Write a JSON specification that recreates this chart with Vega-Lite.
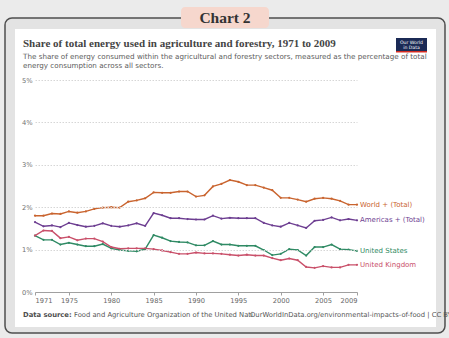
{
  "$schema": "https://vega.github.io/schema/vega-lite/v6.json",
  "width": 322,
  "height": 212,
  "autosize": {"type": "none"},
  "padding": {"left": 35, "top": 80, "right": 92, "bottom": 46},
  "background": "#ebebeb",
  "config": {
    "view": {"stroke": null},
    "font": "DejaVu Sans"
  },
  "data": {
    "values": [
      {"entity": "World + (Total)", "year": 1971, "share": 1.80},
      {"entity": "World + (Total)", "year": 1972, "share": 1.80},
      {"entity": "World + (Total)", "year": 1973, "share": 1.85},
      {"entity": "World + (Total)", "year": 1974, "share": 1.84},
      {"entity": "World + (Total)", "year": 1975, "share": 1.90},
      {"entity": "World + (Total)", "year": 1976, "share": 1.87},
      {"entity": "World + (Total)", "year": 1977, "share": 1.90},
      {"entity": "World + (Total)", "year": 1978, "share": 1.96},
      {"entity": "World + (Total)", "year": 1979, "share": 1.99},
      {"entity": "World + (Total)", "year": 1980, "share": 2.00},
      {"entity": "World + (Total)", "year": 1981, "share": 1.99},
      {"entity": "World + (Total)", "year": 1982, "share": 2.13},
      {"entity": "World + (Total)", "year": 1983, "share": 2.16},
      {"entity": "World + (Total)", "year": 1984, "share": 2.21},
      {"entity": "World + (Total)", "year": 1985, "share": 2.35},
      {"entity": "World + (Total)", "year": 1986, "share": 2.34},
      {"entity": "World + (Total)", "year": 1987, "share": 2.34},
      {"entity": "World + (Total)", "year": 1988, "share": 2.37},
      {"entity": "World + (Total)", "year": 1989, "share": 2.37},
      {"entity": "World + (Total)", "year": 1990, "share": 2.25},
      {"entity": "World + (Total)", "year": 1991, "share": 2.28},
      {"entity": "World + (Total)", "year": 1992, "share": 2.49},
      {"entity": "World + (Total)", "year": 1993, "share": 2.55},
      {"entity": "World + (Total)", "year": 1994, "share": 2.64},
      {"entity": "World + (Total)", "year": 1995, "share": 2.60},
      {"entity": "World + (Total)", "year": 1996, "share": 2.52},
      {"entity": "World + (Total)", "year": 1997, "share": 2.52},
      {"entity": "World + (Total)", "year": 1998, "share": 2.46},
      {"entity": "World + (Total)", "year": 1999, "share": 2.40},
      {"entity": "World + (Total)", "year": 2000, "share": 2.22},
      {"entity": "World + (Total)", "year": 2001, "share": 2.22},
      {"entity": "World + (Total)", "year": 2002, "share": 2.18},
      {"entity": "World + (Total)", "year": 2003, "share": 2.13},
      {"entity": "World + (Total)", "year": 2004, "share": 2.20},
      {"entity": "World + (Total)", "year": 2005, "share": 2.22},
      {"entity": "World + (Total)", "year": 2006, "share": 2.20},
      {"entity": "World + (Total)", "year": 2007, "share": 2.15},
      {"entity": "World + (Total)", "year": 2008, "share": 2.06},
      {"entity": "World + (Total)", "year": 2009, "share": 2.06},

      {"entity": "Americas + (Total)", "year": 1971, "share": 1.65},
      {"entity": "Americas + (Total)", "year": 1972, "share": 1.55},
      {"entity": "Americas + (Total)", "year": 1973, "share": 1.57},
      {"entity": "Americas + (Total)", "year": 1974, "share": 1.53},
      {"entity": "Americas + (Total)", "year": 1975, "share": 1.63},
      {"entity": "Americas + (Total)", "year": 1976, "share": 1.58},
      {"entity": "Americas + (Total)", "year": 1977, "share": 1.54},
      {"entity": "Americas + (Total)", "year": 1978, "share": 1.56},
      {"entity": "Americas + (Total)", "year": 1979, "share": 1.62},
      {"entity": "Americas + (Total)", "year": 1980, "share": 1.56},
      {"entity": "Americas + (Total)", "year": 1981, "share": 1.54},
      {"entity": "Americas + (Total)", "year": 1982, "share": 1.57},
      {"entity": "Americas + (Total)", "year": 1983, "share": 1.62},
      {"entity": "Americas + (Total)", "year": 1984, "share": 1.56},
      {"entity": "Americas + (Total)", "year": 1985, "share": 1.86},
      {"entity": "Americas + (Total)", "year": 1986, "share": 1.81},
      {"entity": "Americas + (Total)", "year": 1987, "share": 1.74},
      {"entity": "Americas + (Total)", "year": 1988, "share": 1.74},
      {"entity": "Americas + (Total)", "year": 1989, "share": 1.72},
      {"entity": "Americas + (Total)", "year": 1990, "share": 1.71},
      {"entity": "Americas + (Total)", "year": 1991, "share": 1.71},
      {"entity": "Americas + (Total)", "year": 1992, "share": 1.80},
      {"entity": "Americas + (Total)", "year": 1993, "share": 1.73},
      {"entity": "Americas + (Total)", "year": 1994, "share": 1.75},
      {"entity": "Americas + (Total)", "year": 1995, "share": 1.74},
      {"entity": "Americas + (Total)", "year": 1996, "share": 1.74},
      {"entity": "Americas + (Total)", "year": 1997, "share": 1.74},
      {"entity": "Americas + (Total)", "year": 1998, "share": 1.63},
      {"entity": "Americas + (Total)", "year": 1999, "share": 1.57},
      {"entity": "Americas + (Total)", "year": 2000, "share": 1.54},
      {"entity": "Americas + (Total)", "year": 2001, "share": 1.63},
      {"entity": "Americas + (Total)", "year": 2002, "share": 1.57},
      {"entity": "Americas + (Total)", "year": 2003, "share": 1.51},
      {"entity": "Americas + (Total)", "year": 2004, "share": 1.68},
      {"entity": "Americas + (Total)", "year": 2005, "share": 1.70},
      {"entity": "Americas + (Total)", "year": 2006, "share": 1.76},
      {"entity": "Americas + (Total)", "year": 2007, "share": 1.69},
      {"entity": "Americas + (Total)", "year": 2008, "share": 1.72},
      {"entity": "Americas + (Total)", "year": 2009, "share": 1.69},

      {"entity": "United States", "year": 1971, "share": 1.33},
      {"entity": "United States", "year": 1972, "share": 1.23},
      {"entity": "United States", "year": 1973, "share": 1.23},
      {"entity": "United States", "year": 1974, "share": 1.12},
      {"entity": "United States", "year": 1975, "share": 1.16},
      {"entity": "United States", "year": 1976, "share": 1.12},
      {"entity": "United States", "year": 1977, "share": 1.08},
      {"entity": "United States", "year": 1978, "share": 1.08},
      {"entity": "United States", "year": 1979, "share": 1.13},
      {"entity": "United States", "year": 1980, "share": 1.03},
      {"entity": "United States", "year": 1981, "share": 0.99},
      {"entity": "United States", "year": 1982, "share": 0.97},
      {"entity": "United States", "year": 1983, "share": 0.96},
      {"entity": "United States", "year": 1984, "share": 1.01},
      {"entity": "United States", "year": 1985, "share": 1.34},
      {"entity": "United States", "year": 1986, "share": 1.28},
      {"entity": "United States", "year": 1987, "share": 1.20},
      {"entity": "United States", "year": 1988, "share": 1.18},
      {"entity": "United States", "year": 1989, "share": 1.17},
      {"entity": "United States", "year": 1990, "share": 1.10},
      {"entity": "United States", "year": 1991, "share": 1.10},
      {"entity": "United States", "year": 1992, "share": 1.20},
      {"entity": "United States", "year": 1993, "share": 1.12},
      {"entity": "United States", "year": 1994, "share": 1.12},
      {"entity": "United States", "year": 1995, "share": 1.09},
      {"entity": "United States", "year": 1996, "share": 1.09},
      {"entity": "United States", "year": 1997, "share": 1.09},
      {"entity": "United States", "year": 1998, "share": 0.99},
      {"entity": "United States", "year": 1999, "share": 0.87},
      {"entity": "United States", "year": 2000, "share": 0.90},
      {"entity": "United States", "year": 2001, "share": 1.01},
      {"entity": "United States", "year": 2002, "share": 0.99},
      {"entity": "United States", "year": 2003, "share": 0.86},
      {"entity": "United States", "year": 2004, "share": 1.06},
      {"entity": "United States", "year": 2005, "share": 1.06},
      {"entity": "United States", "year": 2006, "share": 1.12},
      {"entity": "United States", "year": 2007, "share": 1.01},
      {"entity": "United States", "year": 2008, "share": 1.00},
      {"entity": "United States", "year": 2009, "share": 0.97},

      {"entity": "United Kingdom", "year": 1971, "share": 1.33},
      {"entity": "United Kingdom", "year": 1972, "share": 1.45},
      {"entity": "United Kingdom", "year": 1973, "share": 1.44},
      {"entity": "United Kingdom", "year": 1974, "share": 1.27},
      {"entity": "United Kingdom", "year": 1975, "share": 1.30},
      {"entity": "United Kingdom", "year": 1976, "share": 1.22},
      {"entity": "United Kingdom", "year": 1977, "share": 1.26},
      {"entity": "United Kingdom", "year": 1978, "share": 1.26},
      {"entity": "United Kingdom", "year": 1979, "share": 1.19},
      {"entity": "United Kingdom", "year": 1980, "share": 1.06},
      {"entity": "United Kingdom", "year": 1981, "share": 1.02},
      {"entity": "United Kingdom", "year": 1982, "share": 1.03},
      {"entity": "United Kingdom", "year": 1983, "share": 1.03},
      {"entity": "United Kingdom", "year": 1984, "share": 1.03},
      {"entity": "United Kingdom", "year": 1985, "share": 1.01},
      {"entity": "United Kingdom", "year": 1986, "share": 0.98},
      {"entity": "United Kingdom", "year": 1987, "share": 0.94},
      {"entity": "United Kingdom", "year": 1988, "share": 0.90},
      {"entity": "United Kingdom", "year": 1989, "share": 0.90},
      {"entity": "United Kingdom", "year": 1990, "share": 0.93},
      {"entity": "United Kingdom", "year": 1991, "share": 0.91},
      {"entity": "United Kingdom", "year": 1992, "share": 0.91},
      {"entity": "United Kingdom", "year": 1993, "share": 0.90},
      {"entity": "United Kingdom", "year": 1994, "share": 0.88},
      {"entity": "United Kingdom", "year": 1995, "share": 0.86},
      {"entity": "United Kingdom", "year": 1996, "share": 0.88},
      {"entity": "United Kingdom", "year": 1997, "share": 0.86},
      {"entity": "United Kingdom", "year": 1998, "share": 0.86},
      {"entity": "United Kingdom", "year": 1999, "share": 0.80},
      {"entity": "United Kingdom", "year": 2000, "share": 0.75},
      {"entity": "United Kingdom", "year": 2001, "share": 0.79},
      {"entity": "United Kingdom", "year": 2002, "share": 0.75},
      {"entity": "United Kingdom", "year": 2003, "share": 0.59},
      {"entity": "United Kingdom", "year": 2004, "share": 0.57},
      {"entity": "United Kingdom", "year": 2005, "share": 0.61},
      {"entity": "United Kingdom", "year": 2006, "share": 0.58},
      {"entity": "United Kingdom", "year": 2007, "share": 0.58},
      {"entity": "United Kingdom", "year": 2008, "share": 0.64},
      {"entity": "United Kingdom", "year": 2009, "share": 0.64}
    ]
  },
  "layer": [
    {
      "data": {"values": [{}]},
      "mark": {"type": "rect", "fill": "#e3e3e3", "stroke": "#4f4f4f", "strokeWidth": 1.5, "cornerRadius": 7},
      "encoding": {
        "x": {
          "datum": 1967.46,
          "type": "quantitative",
          "scale": {"domain": [1971, 2009], "nice": false, "zero": false},
          "axis": {
            "title": null,
            "zindex": 1,
            "values": [1971, 1975, 1980, 1985, 1990, 1995, 2000, 2005, 2009],
            "format": "d",
            "labelFlush": true,
            "grid": false,
            "domainColor": "#a0a0a0",
            "tickColor": "#a0a0a0",
            "tickSize": 3,
            "labelColor": "#666666",
            "labelFontSize": 6.7,
            "labelPadding": 2
          }
        },
        "x2": {"datum": 2019.385},
        "y": {
          "datum": 6.462,
          "type": "quantitative",
          "scale": {"domain": [0, 5], "nice": false},
          "axis": {
            "title": null,
            "zindex": 1,
            "values": [0, 1, 2, 3, 4, 5],
            "labelExpr": "datum.value + '%'",
            "domain": false,
            "ticks": false,
            "grid": true,
            "gridColor": "#d6d6d6",
            "gridDash": [1.5, 1.5],
            "labelColor": "#707070",
            "labelFontSize": 6.7,
            "labelPadding": 3
          }
        },
        "y2": {"datum": -0.967}
      }
    },
    {
      "data": {"values": [{}]},
      "mark": {"type": "rect", "fill": "#ffffff"},
      "encoding": {
        "x": {"datum": 1968.64, "type": "quantitative"},
        "x2": {"datum": 2018.323},
        "y": {"datum": 6.203, "type": "quantitative"},
        "y2": {"datum": -0.825}
      }
    },
    {
      "data": {"values": [{}]},
      "mark": {"type": "rect", "fill": "#f6d7cd", "cornerRadius": 4},
      "encoding": {
        "x": {"datum": 1988.23, "type": "quantitative"},
        "x2": {"datum": 1998.615},
        "y": {"datum": 6.722, "type": "quantitative"},
        "y2": {"datum": 6.226}
      }
    },
    {
      "data": {"values": [{}]},
      "mark": {"type": "text", "text": "Chart 2", "font": "Liberation Serif", "fontWeight": "bold", "fontSize": 15.5, "color": "#333333", "align": "center", "baseline": "middle"},
      "encoding": {
        "x": {"datum": 1993.422, "type": "quantitative"},
        "y": {"datum": 6.462, "type": "quantitative"}
      }
    },
    {
      "data": {"values": [{}]},
      "mark": {"type": "text", "text": "Share of total energy used in agriculture and forestry, 1971 to 2009", "font": "Liberation Serif", "fontWeight": "bold", "fontSize": 11, "color": "#444444", "align": "left", "baseline": "middle"},
      "encoding": {
        "x": {"datum": 1969.584, "type": "quantitative"},
        "y": {"datum": 5.849, "type": "quantitative"}
      }
    },
    {
      "data": {"values": [
        {"line": "The share of energy consumed within the agricultural and forestry sectors, measured as the percentage of total", "row": 5.542},
        {"line": "energy consumption across all sectors.", "row": 5.33}
      ]},
      "mark": {"type": "text", "font": "DejaVu Sans", "fontSize": 7.2, "color": "#5b5b5b", "align": "left", "baseline": "middle"},
      "encoding": {
        "x": {"datum": 1969.584, "type": "quantitative"},
        "y": {"field": "row", "type": "quantitative"},
        "text": {"field": "line"}
      }
    },
    {
      "data": {"values": [{}]},
      "mark": {"type": "rect", "fill": "#1b2a55"},
      "encoding": {
        "x": {"datum": 2013.6, "type": "quantitative"},
        "x2": {"datum": 2017.26},
        "y": {"datum": 5.991, "type": "quantitative"},
        "y2": {"datum": 5.66}
      }
    },
    {
      "data": {"values": [{}]},
      "mark": {"type": "rect", "fill": "#d42b21"},
      "encoding": {
        "x": {"datum": 2013.6, "type": "quantitative"},
        "x2": {"datum": 2017.26},
        "y": {"datum": 5.684, "type": "quantitative"},
        "y2": {"datum": 5.649}
      }
    },
    {
      "data": {"values": [{"line": "Our World", "row": 5.875}, {"line": "in Data", "row": 5.76}]},
      "mark": {"type": "text", "font": "DejaVu Sans", "fontSize": 4.6, "color": "#ffffff", "align": "center", "baseline": "middle"},
      "encoding": {
        "x": {"datum": 2015.43, "type": "quantitative"},
        "y": {"field": "row", "type": "quantitative"},
        "text": {"field": "line"}
      }
    },
    {
      "mark": {"type": "line", "strokeWidth": 1.4},
      "encoding": {
        "x": {"field": "year", "type": "quantitative"},
        "y": {"field": "share", "type": "quantitative"},
        "color": {
          "field": "entity",
          "type": "nominal",
          "legend": null,
          "scale": {
            "domain": ["World + (Total)", "Americas + (Total)", "United States", "United Kingdom"],
            "range": ["#c9642f", "#6d3e91", "#2f8a64", "#c9506a"]
          }
        },
        "detail": {"field": "entity"}
      }
    },
    {
      "mark": {"type": "point", "filled": true, "size": 5, "opacity": 1},
      "encoding": {
        "x": {"field": "year", "type": "quantitative"},
        "y": {"field": "share", "type": "quantitative"},
        "color": {"field": "entity", "type": "nominal", "legend": null}
      }
    },
    {
      "transform": [{"filter": "datum.year == 2009"}],
      "mark": {"type": "text", "align": "left", "baseline": "middle", "dx": 3, "fontSize": 7},
      "encoding": {
        "x": {"field": "year", "type": "quantitative"},
        "y": {"field": "share", "type": "quantitative"},
        "text": {"field": "entity"},
        "color": {"field": "entity", "type": "nominal", "legend": null}
      }
    },
    {
      "data": {"values": [{}]},
      "mark": {"type": "text", "text": "Data source:", "font": "DejaVu Sans", "fontWeight": "bold", "fontSize": 6.8, "color": "#4d4d4d", "align": "left", "baseline": "middle"},
      "encoding": {
        "x": {"datum": 1969.584, "type": "quantitative"},
        "y": {"datum": -0.542, "type": "quantitative"}
      }
    },
    {
      "data": {"values": [{}]},
      "mark": {"type": "text", "text": "Food and Agriculture Organization of the United Nati", "font": "DejaVu Sans", "fontSize": 6.8, "color": "#555555", "align": "left", "baseline": "middle"},
      "encoding": {
        "x": {"datum": 1975.6, "type": "quantitative"},
        "y": {"datum": -0.542, "type": "quantitative"}
      }
    },
    {
      "data": {"values": [{}]},
      "mark": {"type": "text", "text": "OurWorldInData.org/environmental-impacts-of-food | CC BY", "font": "DejaVu Sans", "fontSize": 6.8, "color": "#555555", "align": "left", "baseline": "middle"},
      "encoding": {
        "x": {"datum": 1996.373, "type": "quantitative"},
        "y": {"datum": -0.542, "type": "quantitative"}
      }
    }
  ]
}
